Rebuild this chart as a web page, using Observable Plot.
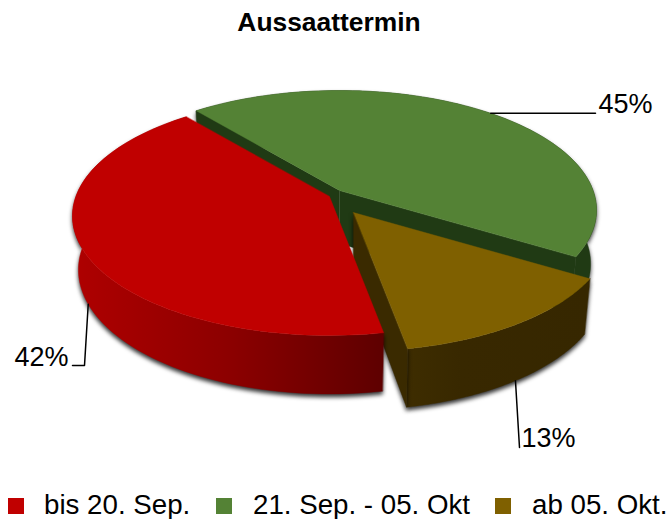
<!DOCTYPE html>
<html>
<head>
<meta charset="utf-8">
<script src="https://cdn.jsdelivr.net/npm/d3@7"></script>
<script src="https://cdn.jsdelivr.net/npm/@observablehq/plot@0.6"></script>
<style>
  html, body { margin: 0; padding: 0; background: #fff; }
  body { width: 670px; height: 519px; overflow: hidden; font-family: "Liberation Sans", Arial, sans-serif; color: #000; }
  #title { height: 45px; line-height: 45px; font-size: 26.4px; font-weight: bold; text-align: center; padding-right: 12px; box-sizing: border-box; }
  #chart svg { display: block; }
  #legend { position: relative; height: 39px; font-size: 27.7px; }
  #legend span.item { position: absolute; top: 0; line-height: 50px; white-space: nowrap; }
  #legend i { position: absolute; top: 18px; width: 16px; height: 16px; }
  .wall { filter: drop-shadow(0 3px 2px rgba(0,0,0,.8)); }
</style>
</head>
<body>
<div id="title"></div>
<div id="chart"></div>
<div id="legend"></div>
<script>
// ---- data ----
const titleText = "Aussaattermin";
const categories = ["bis 20. Sep.", "21. Sep. - 05. Okt", "ab 05. Okt."];
const shares = [41.9, 44.7, 13.4];   // angular shares
const labels = ["42%", "45%", "13%"];
const topColors = ["#c00000", "#548235", "#7f6000"];

// ---- pie geometry (perspective disc) ----
const W = 670, H = 435, TOP = 45;
const startAngle = -129.5;          // where the green slice begins, clockwise
const drawOrder = [1, 2, 0];        // green, brown, red
const sliceOrder = [1, 2, 0];       // angular order round the pie
const apex = [[329, 196], [339, 190], [353, 212]];
const A = 253.6, B = 116.3, P = 0.163, DEPTH = 53, SHRINK_X = 0.977, STRETCH_Y = 1.04;

const rad = d => d * Math.PI / 180;
function project(c, r, deg, level) {
  const u = r * Math.cos(rad(deg)), v = r * Math.sin(rad(deg)), w = 1 - P * v;
  return {
    x: c[0] + (level ? SHRINK_X : 1) * A * u / w,
    y: c[1] + (level ? DEPTH : 0) + (level ? STRETCH_Y : 1) * B * v / w
  };
}
let cursor = startAngle;
const spans = {};
for (const i of sliceOrder) { spans[i] = [cursor, cursor + shares[i] * 3.6]; cursor = spans[i][1]; }

const arc = (c, a0, a1, level) => d3.range(0, 1.0001, 1 / 90).map(t => project(c, 1, a0 + (a1 - a0) * t, level));
function topPoly(i) { const c = apex[i], [a0, a1] = spans[i]; return [{x: c[0], y: c[1]}, ...arc(c, a0, a1, 0)]; }
function wallPoly(i) { const c = apex[i], [a0, a1] = spans[i]; return [...arc(c, a0, a1, 0), ...arc(c, a0, a1, 1).reverse()]; }
function facePoly(i, a) { const c = apex[i];
  return [project(c, 0, a, 0), project(c, 1, a, 0), project(c, 1, a, 1), project(c, 0, a, 1)]; }

const sideFill = ["url(#sideRed)", "#203a14", "url(#sideBrown)"];
const closed = "linear-closed";
const polyMark = (pts, fill, extra = {}) => Plot.line(pts, {x: "x", y: "y", fill, stroke: fill, strokeWidth: 0.4, curve: closed, ...extra});

const marks = [];
const svgNS = "http://www.w3.org/2000/svg";
function gradient(id, stops, x1, x2) {
  const g = document.createElementNS(svgNS, "linearGradient");
  g.setAttribute("id", id); g.setAttribute("gradientUnits", "userSpaceOnUse");
  g.setAttribute("x1", x1); g.setAttribute("x2", x2); g.setAttribute("y1", 0); g.setAttribute("y2", 0);
  stops.forEach(([o, col]) => { const s = document.createElementNS(svgNS, "stop");
    s.setAttribute("offset", o); s.setAttribute("stop-color", col); g.appendChild(s); });
  return g;
}
marks.push(() => {
  const d = document.createElementNS(svgNS, "defs");
  d.appendChild(gradient("sideRed", [[0, "#ae0000"], [0.5, "#8c0000"], [1, "#5e0000"]], 76, 382));
  d.appendChild(gradient("sideBrown", [[0, "#3e2d00"], [0.3, "#382800"], [1, "#362700"]], 405, 590));
  return d;
});
for (const i of drawOrder) {
  const [a0, a1] = spans[i];
  const cls = {className: "wall"};
  marks.push(polyMark(wallPoly(i), sideFill[i], cls));
  if (i === 1) marks.push(polyMark(facePoly(i, a0), "#203a14"), polyMark(facePoly(i, a1), "#203a14"));
  if (i === 2) marks.push(polyMark(facePoly(i, a1), "#3a2a00", cls));
  marks.push(polyMark(topPoly(i), topColors[i]));
}
// leader lines: start on the rim near each slice's mid-angle
const mid = i => (spans[i][0] + spans[i][1]) / 2;
const redA = project(apex[0], 1, mid(0), 1), greenA = project(apex[1], 1, mid(1) + 1, 0), brownA = project(apex[2], 1, mid(2), 1);
const leaders = [
  [redA, {x: 84, y: 365}, {x: 72, y: 365}],
  [greenA, {x: 595, y: greenA.y}],
  [brownA, {x: 519, y: 447}]
];
const labelAt = [
  {x: 14, y: 357},
  {x: 598, y: 104},
  {x: 521, y: 438}
];
leaders.forEach(p => marks.push(Plot.line(p, {x: "x", y: "y", stroke: "#000", strokeWidth: 1.5})));
labels.forEach((t, i) => marks.push(Plot.text([labelAt[i]], {
  x: "x", y: "y", text: () => t, textAnchor: "start", fontSize: 27, fill: "#000", fontFamily: "Liberation Sans, Arial, sans-serif"
})));

const plot = Plot.plot({
  width: W, height: H, margin: 0,
  x: {domain: [0, W], range: [0, W], axis: null},
  y: {domain: [TOP, TOP + H], range: [0, H], axis: null},
  marks
});
document.getElementById("chart").appendChild(plot);
document.getElementById("title").textContent = titleText;

const legendX = [[8, 44], [216, 253], [495, 532]];
const legend = document.getElementById("legend");
categories.forEach((c, i) => {
  const sw = document.createElement("i");
  sw.style.left = legendX[i][0] + "px"; sw.style.background = topColors[i];
  const t = document.createElement("span");
  t.className = "item"; t.style.left = legendX[i][1] + "px"; t.textContent = c;
  legend.append(sw, t);
});
</script>
</body>
</html>
